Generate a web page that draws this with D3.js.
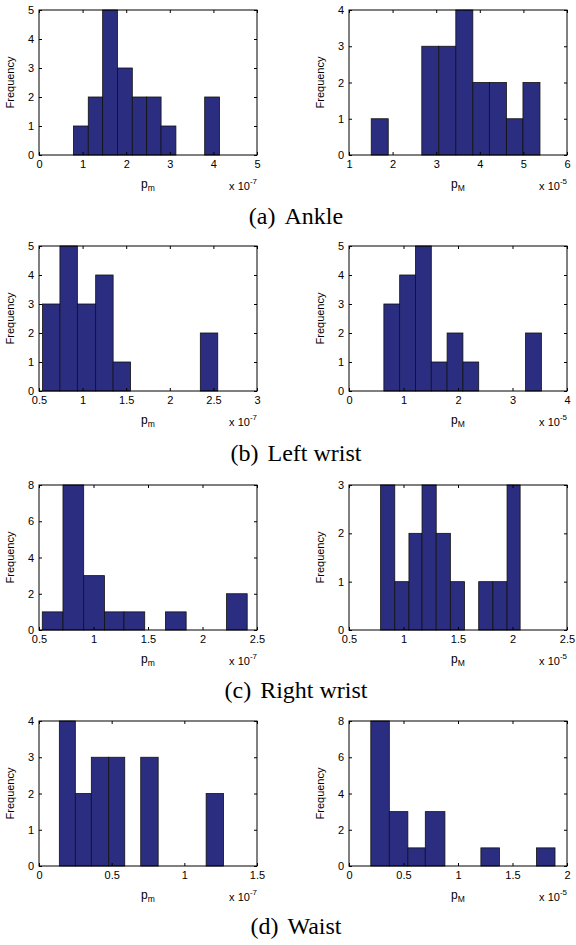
<html>
  <head>
    <meta charset="utf-8"/>
    <style>
      body { margin: 0; background: #fff; }
      text { font-family: "Liberation Sans", Arial, sans-serif; }
    </style>
  </head>
  <body>
    <svg></svg>
  </body>
  <script src="https://d3js.org/d3.v7.min.js"></script>
  <script>
  // bin edges (x, scaled) and counts
  var ankleMinEdges = [0.79, 1.13, 1.46, 1.80, 2.14, 2.47, 2.80, 3.14, 3.47, 3.80, 4.14];
  var ankleMinCounts = [1, 2, 5, 3, 2, 2, 1, 0, 0, 2];
  var ankleMaxEdges = [1.51, 1.90, 2.29, 2.67, 3.06, 3.45, 3.84, 4.22, 4.61, 4.99, 5.38];
  var ankleMaxCounts = [1, 0, 0, 3, 3, 4, 2, 2, 1, 2];

  var lwristMinEdges = [0.54, 0.74, 0.94, 1.15, 1.35, 1.55, 1.75, 1.95, 2.15, 2.35, 2.55];
  var lwristMinCounts = [3, 5, 3, 4, 1, 0, 0, 0, 0, 2];
  var lwristMaxEdges = [0.64, 0.93, 1.22, 1.51, 1.80, 2.09, 2.38, 2.67, 2.96, 3.24, 3.53];
  var lwristMaxCounts = [3, 4, 5, 1, 2, 1, 0, 0, 0, 2];

  var rwristMinEdges = [0.53, 0.72, 0.91, 1.10, 1.28, 1.47, 1.66, 1.85, 2.03, 2.22, 2.41];
  var rwristMinCounts = [1, 8, 3, 1, 1, 0, 1, 0, 0, 2];
  var rwristMaxEdges = [0.79, 0.92, 1.05, 1.17, 1.30, 1.43, 1.56, 1.69, 1.82, 1.95, 2.07];
  var rwristMaxCounts = [3, 1, 2, 3, 2, 1, 0, 1, 1, 3];

  var waistMinEdges = [0.14, 0.25, 0.36, 0.48, 0.59, 0.70, 0.82, 0.93, 1.04, 1.15, 1.27];
  var waistMinCounts = [4, 2, 3, 3, 0, 3, 0, 0, 0, 2];
  var waistMaxEdges = [0.20, 0.37, 0.54, 0.70, 0.88, 1.04, 1.21, 1.38, 1.55, 1.72, 1.89];
  var waistMaxCounts = [8, 3, 1, 3, 0, 0, 1, 0, 0, 1];

  // axis ticks
  var ankleMinXTicks = [0, 1, 2, 3, 4, 5];
  var ankleMaxXTicks = [1, 2, 3, 4, 5, 6];
  var lwristMinXTicks = [0.5, 1, 1.5, 2, 2.5, 3];
  var lwristMaxXTicks = [0, 1, 2, 3, 4];
  var rwristXTicks = [0.5, 1, 1.5, 2, 2.5];
  var waistMinXTicks = [0, 0.5, 1, 1.5];
  var waistMaxXTicks = [0, 0.5, 1, 1.5, 2];
  var yTicks5 = [0, 1, 2, 3, 4, 5];
  var yTicks4 = [0, 1, 2, 3, 4];
  var yTicks3 = [0, 1, 2, 3];
  var yTicks8 = [0, 2, 4, 6, 8];

  var captions = ["(a)", "(b)", "(c)", "(d)"];
  var captionNames = ["Ankle", "Left wrist", "Right wrist", "Waist"];

  var W = 576, H = 945;
  var svg = d3.select("svg").attr("width", W).attr("height", H);

  var colX = [39, 349], plotW = 218, plotH = 145;
  var rowY = [10, 246, 485, 721];
  var barColor = "#2b2e80";
  var fmt = d3.format("~g");

  var panels = [
    {row: 0, col: 0, edges: ankleMinEdges, counts: ankleMinCounts, xt: ankleMinXTicks, yt: yTicks5, sub: "m", exp: "-7"},
    {row: 0, col: 1, edges: ankleMaxEdges, counts: ankleMaxCounts, xt: ankleMaxXTicks, yt: yTicks4, sub: "M", exp: "-5"},
    {row: 1, col: 0, edges: lwristMinEdges, counts: lwristMinCounts, xt: lwristMinXTicks, yt: yTicks5, sub: "m", exp: "-7"},
    {row: 1, col: 1, edges: lwristMaxEdges, counts: lwristMaxCounts, xt: lwristMaxXTicks, yt: yTicks5, sub: "M", exp: "-5"},
    {row: 2, col: 0, edges: rwristMinEdges, counts: rwristMinCounts, xt: rwristXTicks, yt: yTicks8, sub: "m", exp: "-7"},
    {row: 2, col: 1, edges: rwristMaxEdges, counts: rwristMaxCounts, xt: rwristXTicks, yt: yTicks3, sub: "M", exp: "-5"},
    {row: 3, col: 0, edges: waistMinEdges, counts: waistMinCounts, xt: waistMinXTicks, yt: yTicks4, sub: "m", exp: "-7"},
    {row: 3, col: 1, edges: waistMaxEdges, counts: waistMaxCounts, xt: waistMaxXTicks, yt: yTicks8, sub: "M", exp: "-5"}
  ];

  panels.forEach(function(p) {
    var g = svg.append("g")
      .attr("transform", "translate(" + colX[p.col] + "," + rowY[p.row] + ")");

    var x = d3.scaleLinear()
      .domain(d3.extent(p.xt))
      .range([0, plotW]);
    var y = d3.scaleLinear()
      .domain(d3.extent(p.yt))
      .range([plotH, 0]);

    var bins = p.counts.map(function(c, i) {
      return {x0: p.edges[i], x1: p.edges[i + 1], n: c};
    });

    g.selectAll("rect.bar")
      .data(bins.filter(function(d) { return d.n > 0; }))
      .enter().append("rect")
      .attr("class", "bar")
      .attr("x", function(d) { return x(d.x0); })
      .attr("width", function(d) { return x(d.x1) - x(d.x0); })
      .attr("y", function(d) { return y(d.n); })
      .attr("height", function(d) { return plotH - y(d.n); })
      .attr("fill", barColor)
      .attr("stroke", "#111")
      .attr("stroke-width", 0.8);

    // box with inward ticks on all four sides
    var axes = [
      {a: d3.axisBottom(x).tickValues(p.xt).tickFormat(fmt), t: "translate(0," + plotH + ")"},
      {a: d3.axisTop(x).tickValues(p.xt).tickFormat(""), t: "translate(0,0)"},
      {a: d3.axisLeft(y).tickValues(p.yt).tickFormat(fmt), t: "translate(0,0)"},
      {a: d3.axisRight(y).tickValues(p.yt).tickFormat(""), t: "translate(" + plotW + ",0)"}
    ];
    axes.forEach(function(ax) {
      var a = g.append("g")
        .attr("transform", ax.t)
        .call(ax.a.tickSizeInner(-3).tickSizeOuter(0).tickPadding(5));
      a.select(".domain").remove();
      a.selectAll("text").attr("font-size", 11).attr("fill", "#000")
        .attr("font-family", "Liberation Sans, Arial, sans-serif");
      a.selectAll("line").attr("stroke", "#000");
    });

    g.append("rect")
      .attr("width", plotW)
      .attr("height", plotH)
      .attr("fill", "none")
      .attr("stroke", "#000")
      .attr("stroke-width", 1);

    g.append("text")
      .attr("transform", "translate(-25," + plotH / 2 + ") rotate(-90)")
      .attr("text-anchor", "middle")
      .attr("font-size", 11)
      .text("Frequency");

    var xl = g.append("text")
      .attr("x", plotW / 2)
      .attr("y", plotH + 33)
      .attr("text-anchor", "middle")
      .attr("font-size", 12);
    xl.append("tspan").text("p");
    xl.append("tspan").attr("dy", 3).attr("font-size", 8.5).text(p.sub);

    var sc = g.append("text")
      .attr("x", plotW)
      .attr("y", plotH + 35)
      .attr("text-anchor", "end")
      .attr("font-size", 11);
    sc.append("tspan").text("x 10");
    sc.append("tspan").attr("dy", -6).attr("font-size", 8).text(p.exp);
  });

  var capY = [224, 461, 698, 934];
  captions.forEach(function(c, i) {
    var t = svg.append("text")
      .attr("x", 296)
      .attr("y", capY[i])
      .attr("text-anchor", "middle")
      .style("font-family", "'Liberation Serif', 'Times New Roman', serif")
      .attr("font-size", 24);
    t.append("tspan").text(c);
    t.append("tspan").attr("dx", 9).text(captionNames[i]);
  });
  </script>
</html>
